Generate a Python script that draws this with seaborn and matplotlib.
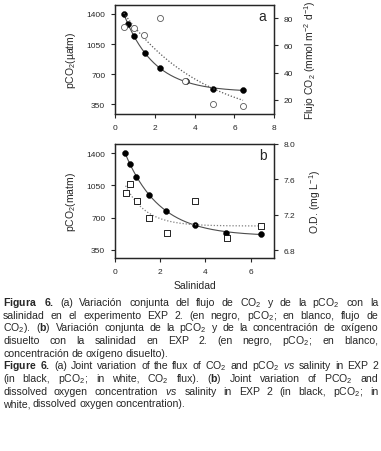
import numpy as np
import pandas as pd
import seaborn as sns
import matplotlib.pyplot as plt
import matplotlib as mpl
from matplotlib import font_manager

sns.set_style("ticks")
names = {f.name for f in font_manager.fontManager.ttflist}
fam = "Liberation Sans Narrow" if "Liberation Sans Narrow" in names else "Liberation Sans"
mpl.rcParams['font.family'] = [fam, 'DejaVu Sans']
mpl.rcParams['mathtext.fontset'] = 'custom'
mpl.rcParams['mathtext.rm'] = fam
mpl.rcParams['mathtext.it'] = fam + ':italic'
mpl.rcParams['mathtext.bf'] = fam + ':bold'
mpl.rcParams['axes.linewidth'] = 0.9

# data
salinity = [0.45, 0.66, 0.95, 1.5, 2.27, 3.55, 4.93, 6.45]
pco2_a = [1395, 1280, 1142, 947, 769, 615, 528, 520]
pco2_b = [1400, 1283, 1145, 949, 772, 622, 535, 521]
sal_flux = [0.44, 0.94, 1.48, 2.25, 3.52, 4.9, 6.43]
flux = [73.8, 73.1, 67.9, 80.2, 33.6, 16.8, 15.4]
sal_od = [0.47, 0.68, 0.99, 1.52, 2.3, 3.55, 4.96, 6.45]
od = [7.447, 7.548, 7.357, 7.167, 6.988, 7.357, 6.935, 7.073]


def expfit(x, y, const=True):
    x = np.asarray(x, float)
    y = np.asarray(y, float)
    best = None
    for b in np.linspace(0.02, 3.0, 1500):
        e = np.exp(-b * x)
        A = np.column_stack([e, np.ones_like(x)]) if const else e[:, None]
        coef = np.linalg.lstsq(A, y, rcond=None)[0]
        r = np.sum((A @ coef - y) ** 2)
        if best is None or r < best[0]:
            best = (r, b, coef)
    _, b, coef = best
    xs = np.linspace(x.min(), x.max(), 200)
    ys = coef[0] * np.exp(-b * xs) + (coef[1] if const else 0)
    return pd.DataFrame({"x": xs, "y": ys})


W, H = 381, 452
fig = plt.figure(figsize=(W / 100, H / 100), dpi=100)
axA = fig.add_axes([115 / W, 1 - 115 / H, 159.3 / W, 109.3 / H])
axB = fig.add_axes([115 / W, 1 - 259 / H, 159.3 / W, 114 / H])
axA2 = axA.twinx()
axB2 = axB.twinx()

# panel a
fa = expfit(salinity, pco2_a)
sns.lineplot(data=fa, x="x", y="y", ax=axA, color="0.3", lw=0.8)
sns.scatterplot(x=salinity, y=pco2_a, ax=axA, color="black", s=18, edgecolor="black", zorder=3)
ff = expfit(sal_flux, flux, const=False)
sns.lineplot(data=ff, x="x", y="y", ax=axA2, color="0.35", lw=0.9, linestyle=(0, (1, 1.5)))
sns.scatterplot(x=sal_flux, y=flux, ax=axA2, facecolor="white", edgecolor="0.35", s=19, linewidth=0.6, zorder=3)

# panel b
fb = expfit(salinity, pco2_b)
sns.lineplot(data=fb, x="x", y="y", ax=axB, color="0.3", lw=0.8)
sns.scatterplot(x=salinity, y=pco2_b, ax=axB, color="black", s=18, edgecolor="black", zorder=3)
fo = expfit(sal_od, od)
sns.lineplot(data=fo, x="x", y="y", ax=axB2, color="0.5", lw=0.9, linestyle=(0, (1, 1.5)))
sns.scatterplot(x=sal_od, y=od, ax=axB2, marker="s", facecolor="white", edgecolor="black", s=14, linewidth=0.6, zorder=3)

tk = dict(labelsize=6, length=3, width=0.8, pad=4)
for ax in (axA, axB, axA2, axB2):
    ax.tick_params(**tk)
    ax.set_xlabel("")
    ax.set_ylabel("")

axA.set(xlim=(0, 8), ylim=(237, 1508), xticks=[0, 2, 4, 6, 8], yticks=[350, 700, 1050, 1400])
axA2.set(ylim=(9.5, 90), yticks=[20, 40, 60, 80])
axB.set(xlim=(0, 7.05), ylim=(260, 1500), xticks=[0, 2, 4, 6], yticks=[350, 700, 1050, 1400])
axB2.set(ylim=(6.71, 8.0), yticks=[6.8, 7.2, 7.6, 8.0])
axB2.set_yticklabels(["6.8", "7.2", "7.6", "8.0"])

axA.set_ylabel("pCO$_2$(µatm)", fontsize=7.5, labelpad=6)
axB.set_ylabel("pCO$_2$(matm)", fontsize=7.5, labelpad=6)
axA2.set_ylabel("Flujo CO$_2$ (mmol m$^{-2}$ d$^{-1}$)", fontsize=7.5, labelpad=6)
axB2.set_ylabel("O.D. (mg L$^{-1}$)", fontsize=7.5, labelpad=8)
axB.set_xlabel("Salinidad", fontsize=7.5, labelpad=4)
axA.text(0.95, 0.9, "a", transform=axA.transAxes, fontsize=10, ha="right", va="center")
axB.text(0.95, 0.9, "b", transform=axB.transAxes, fontsize=10, ha="right", va="center")

caption = [
    r"$\mathbf{Figura}$ $\mathbf{6.}$ (a) Variación conjunta del flujo de CO$_2$ y de la pCO$_2$ con la",
    r"salinidad en el experimento EXP 2. (en negro, pCO$_2$; en blanco, flujo de",
    r"CO$_2$). ($\mathbf{b}$) Variación conjunta de la pCO$_2$ y de la concentración de oxígeno",
    r"disuelto con la salinidad en EXP 2. (en negro, pCO$_2$; en blanco,",
    r"concentración de oxígeno disuelto).",
    r"$\mathbf{Figure}$ $\mathbf{6.}$ (a) Joint variation of the flux of CO$_2$ and pCO$_2$ $\mathit{vs}$ salinity in EXP 2",
    r"(in black, pCO$_2$; in white, CO$_2$ flux). ($\mathbf{b}$) Joint variation of PCO$_2$ and",
    r"dissolved oxygen concentration $\mathit{vs}$ salinity in EXP 2 (in black, pCO$_2$; in",
    r"white, dissolved oxygen concentration).",
]
last_lines = {4, 8}

renderer = fig.canvas.get_renderer()
x0, x1 = 3, 378
for i, line in enumerate(caption):
    yb = 1 - (306 + i * 12.66) / H
    words = line.split(" ")
    objs = []
    for w in words:
        t = fig.text(0, yb, w, fontsize=7.6, ha="left", va="baseline")
        objs.append(t)
    widths = [t.get_window_extent(renderer).width for t in objs]
    if i in last_lines:
        gap = 2.3
    else:
        gap = (x1 - x0 - sum(widths)) / (len(words) - 1)
    x = x0
    for t, w in zip(objs, widths):
        t.set_x(x / W)
        x += w + gap

fig.savefig("out.png", dpi=100)
